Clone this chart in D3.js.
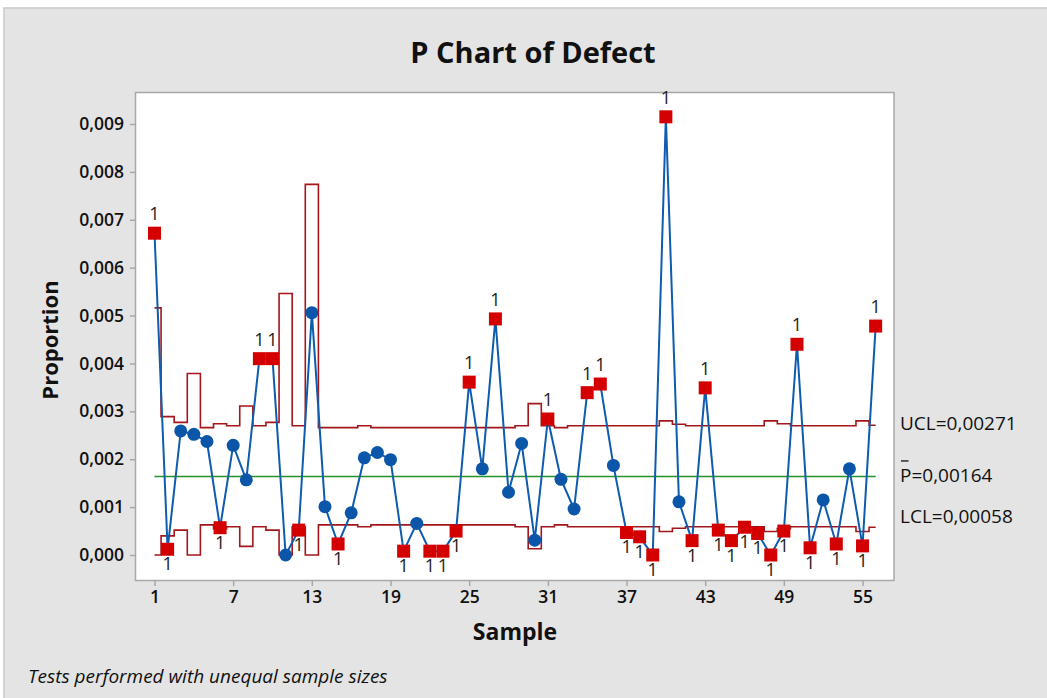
<!DOCTYPE html>
<html><head><meta charset="utf-8">
<script src="https://cdn.jsdelivr.net/npm/d3@7"></script>
<style>
body{margin:0;background:#fff}
text{font-family:"Open Sans","Noto Sans",sans-serif}
</style>
</head><body>
<svg id="c" width="1047" height="698"></svg>
<script>
// ---------- data ----------
const samples = d3.range(1, 57);
const proportion = [
  0.00672, 0.00012, 0.00259, 0.00252, 0.00237, 0.00057, 0.00229, 0.00157, 0.00410, 0.00410,
  0.00000, 0.00052, 0.00506, 0.00101, 0.00023, 0.00088, 0.00203, 0.00214, 0.00199, 0.00008,
  0.00066, 0.00008, 0.00008, 0.00050, 0.00361, 0.00180, 0.00493, 0.00131, 0.00233, 0.00031,
  0.00284, 0.00158, 0.00096, 0.00339, 0.00357, 0.00187, 0.00047, 0.00038, 0.00000, 0.00915,
  0.00111, 0.00030, 0.00349, 0.00052, 0.00030, 0.00058, 0.00045, 0.00000, 0.00050, 0.00440,
  0.00015, 0.00115, 0.00023, 0.00180, 0.00019, 0.00478
];
const ucl = [
  0.00516, 0.00289, 0.00277, 0.00379, 0.00266, 0.00274, 0.00270, 0.00311, 0.00270, 0.00277,
  0.00546, 0.00270, 0.00774, 0.00266, 0.00266, 0.00266, 0.00270, 0.00266, 0.00266, 0.00266,
  0.00266, 0.00266, 0.00266, 0.00266, 0.00266, 0.00266, 0.00266, 0.00266, 0.00270, 0.00316,
  0.00270, 0.00266, 0.00270, 0.00270, 0.00270, 0.00270, 0.00270, 0.00270, 0.00270, 0.00280,
  0.00273, 0.00270, 0.00270, 0.00270, 0.00270, 0.00270, 0.00270, 0.00280, 0.00274, 0.00270,
  0.00270, 0.00270, 0.00270, 0.00270, 0.00280, 0.00271
];
const lcl = [
  0.00000, 0.00040, 0.00052, 0.00000, 0.00063, 0.00055, 0.00059, 0.00018, 0.00059, 0.00052,
  0.00000, 0.00059, 0.00000, 0.00063, 0.00063, 0.00063, 0.00059, 0.00063, 0.00063, 0.00063,
  0.00063, 0.00063, 0.00063, 0.00063, 0.00063, 0.00063, 0.00063, 0.00063, 0.00059, 0.00013,
  0.00059, 0.00063, 0.00059, 0.00059, 0.00059, 0.00059, 0.00059, 0.00059, 0.00059, 0.00049,
  0.00056, 0.00059, 0.00059, 0.00059, 0.00059, 0.00059, 0.00059, 0.00049, 0.00055, 0.00059,
  0.00059, 0.00059, 0.00059, 0.00059, 0.00049, 0.00058
];
const pBar = 0.00164;
const flagged = [1,2,6,9,10,12,15,20,22,23,24,25,27,31,34,35,37,38,39,40,42,43,44,45,46,47,48,49,50,51,53,55,56];
const xTickValues = [1, 7, 13, 19, 25, 31, 37, 43, 49, 55];
const yTickValues = [0, 0.001, 0.002, 0.003, 0.004, 0.005, 0.006, 0.007, 0.008, 0.009];
const limitLabels = {ucl: "UCL=0,00271", center: "P=0,00164", lcl: "LCL=0,00058"};

// ---------- layout ----------
const svg = d3.select("#c");
const loc = d3.formatLocale({decimal: ",", thousands: ".", grouping: [3], currency: ["", ""]});
const fmt = loc.format(".3f");

svg.append("rect").attr("x", 4).attr("y", 8).attr("width", 1100).attr("height", 800)
  .attr("fill", "#e4e4e4").attr("stroke", "#c9c9c9").attr("stroke-width", 1.5);

const frame = {l: 135.5, r: 894, t: 92.5, b: 580.5};
const x = d3.scaleLinear().domain([-0.45, 57.4]).range([frame.l, frame.r]);
const y = d3.scaleLinear().domain([0, 0.009]).range([555, 124]);

svg.append("rect").attr("x", frame.l).attr("y", frame.t)
  .attr("width", frame.r - frame.l).attr("height", frame.b - frame.t)
  .attr("fill", "#fff").attr("stroke", "#a8a8a8").attr("stroke-width", 1.5);

// axes
const yAxis = d3.axisLeft(y).tickValues(yTickValues).tickFormat(fmt).tickSize(5).tickPadding(6);
const ga = svg.append("g").attr("transform", `translate(${frame.l - 0.5},0)`).call(yAxis);
const xAxis = d3.axisBottom(x).tickValues(xTickValues).tickFormat(d3.format("d")).tickSize(5).tickPadding(5);
const gx = svg.append("g").attr("transform", `translate(0,${frame.b + 0.5})`).call(xAxis);
[ga, gx].forEach(g => {
  g.select(".domain").remove();
  g.selectAll(".tick line").attr("stroke", "#a8a8a8").attr("stroke-width", 1.5);
  g.selectAll(".tick text").attr("fill", "#111").attr("font-size", 17.5).attr("font-weight", 600)
    .style("font-family", '"Open Sans","Noto Sans",sans-serif');
});

// control limit step lines
function stepPoints(arr) {
  const pts = arr.map((v, i) => [i === 0 ? samples[0] : samples[i] - 0.5, v]);
  pts.push([samples[samples.length - 1], arr[arr.length - 1]]);
  return pts;
}
const stepLine = d3.line().x(d => x(d[0])).y(d => y(d[1])).curve(d3.curveStepAfter);
const limitColor = "#a4161a";
svg.append("path").attr("d", stepLine(stepPoints(ucl))).attr("fill", "none")
  .attr("stroke", limitColor).attr("stroke-width", 1.6);
svg.append("path").attr("d", stepLine(stepPoints(lcl))).attr("fill", "none")
  .attr("stroke", limitColor).attr("stroke-width", 1.6);

// center line
svg.append("line").attr("x1", x(samples[0])).attr("x2", x(samples[samples.length - 1]))
  .attr("y1", y(pBar)).attr("y2", y(pBar)).attr("stroke", "#23922e").attr("stroke-width", 1.6);

// data line
const data = samples.map((s, i) => ({s, v: proportion[i], out: flagged.includes(s)}));
svg.append("path").datum(data)
  .attr("d", d3.line().x(d => x(d.s)).y(d => y(d.v)))
  .attr("fill", "none").attr("stroke", "#0d5cb0").attr("stroke-width", 2);

// markers
svg.selectAll("circle.pt").data(data.filter(d => !d.out)).join("circle")
  .attr("class", "pt").attr("cx", d => x(d.s)).attr("cy", d => y(d.v)).attr("r", 6.5)
  .attr("fill", "#0b56a8");
const sq = 13;
svg.selectAll("rect.pt").data(data.filter(d => d.out)).join("rect")
  .attr("class", "pt").attr("x", d => x(d.s) - sq / 2).attr("y", d => y(d.v) - sq / 2)
  .attr("width", sq).attr("height", sq).attr("fill", "#d40000");

// test labels
svg.selectAll("text.flag").data(data.filter(d => d.out)).join("text")
  .attr("class", "flag").attr("x", d => x(d.s)).attr("text-anchor", "middle")
  .attr("y", d => d.v > pBar ? y(d.v) - 13 : y(d.v) + 21)
  .attr("font-size", 18).attr("fill", "#222").text("1");

// right labels
const last = samples.length - 1;
const rl = svg.append("g").attr("font-size", 19).attr("fill", "#111");
rl.append("text").attr("x", 900).attr("y", y(ucl[last]) + 5).text(limitLabels.ucl);
rl.append("text").attr("x", 900).attr("y", y(pBar) + 6).text(limitLabels.center);
svg.append("line").attr("x1", 901).attr("x2", 908.5).attr("y1", y(pBar) - 15.5).attr("y2", y(pBar) - 15.5)
  .attr("stroke", "#111").attr("stroke-width", 1.3);
rl.append("text").attr("x", 900).attr("y", y(lcl[last]) - 4).text(limitLabels.lcl);

// titles
svg.append("text").attr("x", 533).attr("y", 63).attr("text-anchor", "middle")
  .attr("font-size", 29).attr("font-weight", 700).attr("fill", "#111").text("P Chart of Defect");
svg.append("text").attr("x", 515).attr("y", 640).attr("text-anchor", "middle")
  .attr("font-size", 23).attr("font-weight", 700).attr("fill", "#111").text("Sample");
svg.append("text").attr("transform", "translate(58,340) rotate(-90)").attr("text-anchor", "middle")
  .attr("font-size", 22).attr("font-weight", 700).attr("fill", "#111").text("Proportion");
svg.append("text").attr("x", 28).attr("y", 683).attr("font-size", 19).attr("font-style", "italic")
  .attr("fill", "#111").text("Tests performed with unequal sample sizes");
</script>
</body></html>
